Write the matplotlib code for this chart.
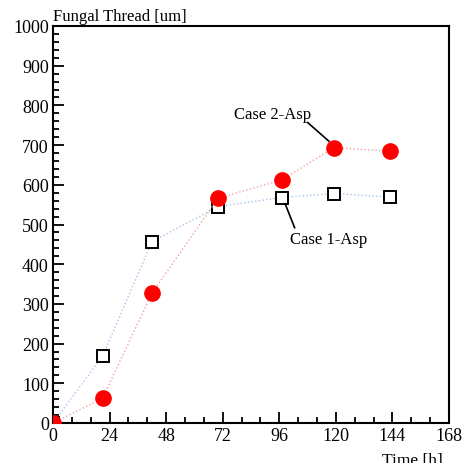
import numpy as np
import matplotlib.pyplot as plt
from matplotlib.ticker import MultipleLocator

# time points [h] and fungal thread length [um]
time_case1 = [0, 21, 42, 70, 97, 119, 143]
thread_case1 = [0, 168, 457, 545, 568, 578, 569]
time_case2 = [0, 21, 42, 70, 97, 119, 143]
thread_case2 = [0, 62, 327, 566, 612, 693, 685]

plt.rcParams['font.family'] = ['Liberation Serif', 'DejaVu Serif']

fig = plt.figure(figsize=(4.68, 4.64), dpi=100)
ax = fig.add_axes([53 / 468, 40 / 464, 396 / 468, 397 / 464])

ax.plot(time_case1, thread_case1, linestyle=':', color='#a8c4ec', linewidth=1,
        marker='s', markersize=9, markerfacecolor='white', markeredgecolor='black',
        markeredgewidth=1.4, zorder=3)
ax.plot(time_case2, thread_case2, linestyle=':', color='#f5a0a0', linewidth=1,
        marker='o', markersize=11, markerfacecolor='#ff0000', markeredgecolor='#ff0000',
        zorder=4)

ax.set_xlim(0, 168)
ax.set_ylim(0, 1000)
ax.xaxis.set_major_locator(MultipleLocator(24))
ax.xaxis.set_minor_locator(MultipleLocator(8))
ax.yaxis.set_major_locator(MultipleLocator(100))
ax.yaxis.set_minor_locator(MultipleLocator(20))
ax.tick_params(which='both', direction='in', top=False, right=False,
               labelsize=13, width=1.3, colors='black')
ax.tick_params(which='major', length=8, pad=3)
ax.tick_params(which='minor', length=4.5)
for s in ax.spines.values():
    s.set_linewidth(1.5)

ax.text(0.0, 1.005, 'Fungal Thread [um]', transform=ax.transAxes,
        ha='left', va='bottom', fontsize=12)
ax.text(0.985, -0.072, 'Time [h]', transform=ax.transAxes,
        ha='right', va='top', fontsize=12.5)

# labels with leader lines
ax.text(93, 778, 'Case 2-Asp', ha='center', va='center', fontsize=12)
ax.plot([108, 117], [757, 710], color='black', lw=1.2, zorder=5)
ax.text(117, 463, 'Case 1-Asp', ha='center', va='center', fontsize=12)
ax.plot([98.5, 102.5], [552, 492], color='black', lw=1.2, zorder=5)

for lab in ax.get_xticklabels() + ax.get_yticklabels():
    lab.set_clip_on(False)

fig.savefig('out.png', dpi=100)
